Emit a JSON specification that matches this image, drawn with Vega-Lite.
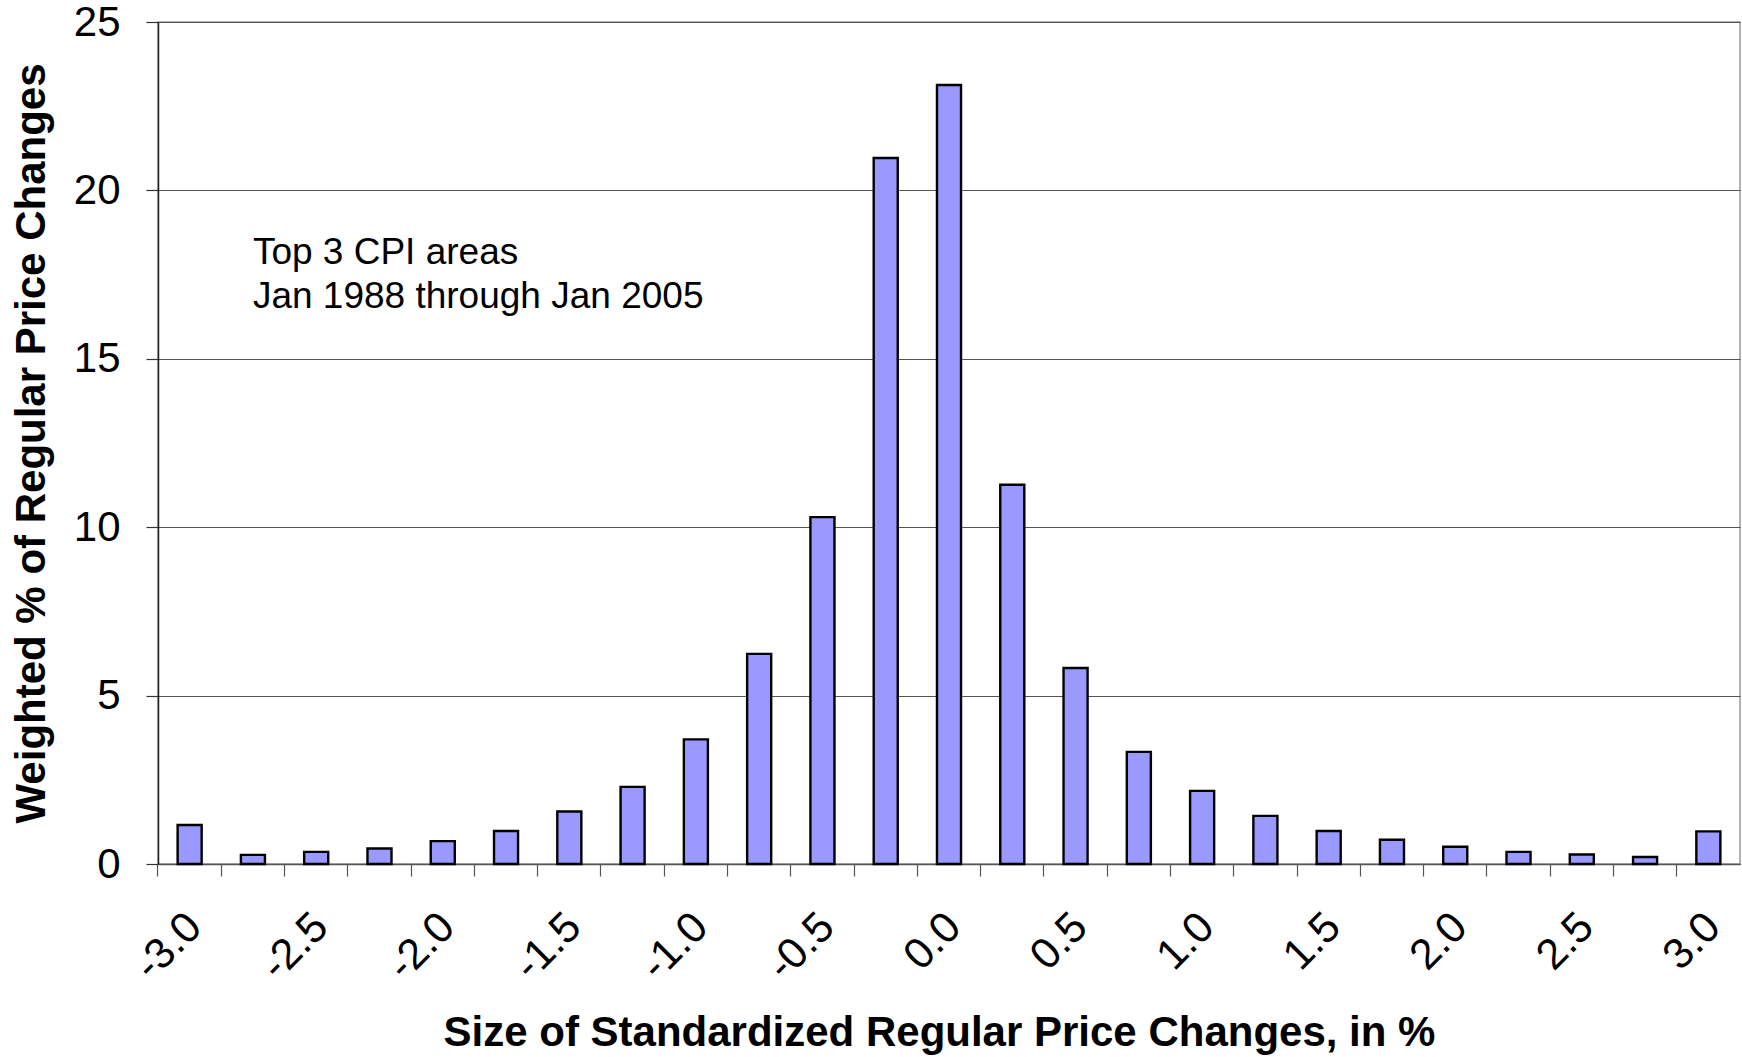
{
  "$schema": "https://vega.github.io/schema/vega-lite/v6.json",
  "width": 1582,
  "height": 842,
  "autosize": {"type": "none"},
  "padding": {"left": 158, "top": 22, "right": 2, "bottom": 193},
  "background": "white",
  "config": {
    "font": "Liberation Sans",
    "view": {"stroke": "#999999", "strokeWidth": 1.5},
    "axis": {"labelFont": "Liberation Sans", "titleFont": "Liberation Sans", "labelColor": "black", "titleColor": "black"}
  },
  "datasets": {
    "bars": [
      {"size": -3.0, "pct": 1.16},
      {"size": -2.75, "pct": 0.27},
      {"size": -2.5, "pct": 0.36},
      {"size": -2.25, "pct": 0.46},
      {"size": -2.0, "pct": 0.68},
      {"size": -1.75, "pct": 0.98},
      {"size": -1.5, "pct": 1.56},
      {"size": -1.25, "pct": 2.29},
      {"size": -1.0, "pct": 3.70},
      {"size": -0.75, "pct": 6.24},
      {"size": -0.5, "pct": 10.30},
      {"size": -0.25, "pct": 20.96},
      {"size": 0.0, "pct": 23.13},
      {"size": 0.25, "pct": 11.26},
      {"size": 0.5, "pct": 5.82},
      {"size": 0.75, "pct": 3.33},
      {"size": 1.0, "pct": 2.17},
      {"size": 1.25, "pct": 1.43},
      {"size": 1.5, "pct": 0.98},
      {"size": 1.75, "pct": 0.72},
      {"size": 2.0, "pct": 0.51},
      {"size": 2.25, "pct": 0.36},
      {"size": 2.5, "pct": 0.28},
      {"size": 2.75, "pct": 0.21},
      {"size": 3.0, "pct": 0.97}
    ],
    "notes": [
      {"size": -2.75, "pct": 17.8, "text": ["Top 3 CPI areas", "Jan 1988 through Jan 2005"]}
    ]
  },
  "encoding": {
    "x": {
      "field": "size",
      "type": "ordinal",
      "scale": {"paddingInner": 0.62, "paddingOuter": 0.31},
      "axis": {
        "orient": "bottom",
        "title": "Size of Standardized Regular Price Changes, in %",
        "titleFontSize": 42,
        "titleFontWeight": "bold",
        "titleX": 781,
        "titleY": 181,
        "titleAlign": "center",
        "titleBaseline": "alphabetic",
        "labelExpr": "datum.value % 0.5 == 0 ? (datum.value == round(datum.value) ? datum.value + '.0' : datum.value + '') : ''",
        "labelAngle": -45,
        "labelAlign": "right",
        "labelBaseline": "middle",
        "labelFontSize": 43,
        "labelPadding": 44,
        "labelOffset": 5,
        "labelOverlap": false,
        "labelBound": false,
        "labelFlush": false,
        "bandPosition": -0.8158,
        "ticks": true,
        "tickSize": 12,
        "tickColor": "#555555",
        "tickWidth": 1.2,
        "domainColor": "#555555",
        "domainWidth": 1.5,
        "grid": false
      }
    },
    "y": {
      "field": "pct",
      "type": "quantitative",
      "scale": {"domain": [0, 25], "nice": false, "zero": true},
      "axis": {
        "title": "Weighted % of Regular Price Changes",
        "titleFontSize": 42,
        "titleFontWeight": "bold",
        "titleAngle": -90,
        "titleX": -127,
        "titleY": 421,
        "titleAlign": "center",
        "titleBaseline": "middle",
        "values": [0, 5, 10, 15, 20, 25],
        "labelFontSize": 42,
        "labelPadding": 26,
        "tickSize": 12,
        "tickColor": "#333333",
        "tickWidth": 1.2,
        "domainColor": "#222222",
        "domainWidth": 1.5,
        "grid": true,
        "gridColor": "#555555",
        "gridWidth": 1.2
      }
    }
  },
  "layer": [
    {
      "data": {"name": "bars"},
      "mark": {"type": "bar", "fill": "#9999FF", "stroke": "black", "strokeWidth": 2.4}
    },
    {
      "data": {"name": "notes"},
      "mark": {"type": "text", "align": "left", "baseline": "alphabetic", "fontSize": 37, "lineHeight": 44, "font": "Liberation Sans", "color": "black"},
      "encoding": {
        "text": {"field": "text"}
      }
    }
  ]
}
